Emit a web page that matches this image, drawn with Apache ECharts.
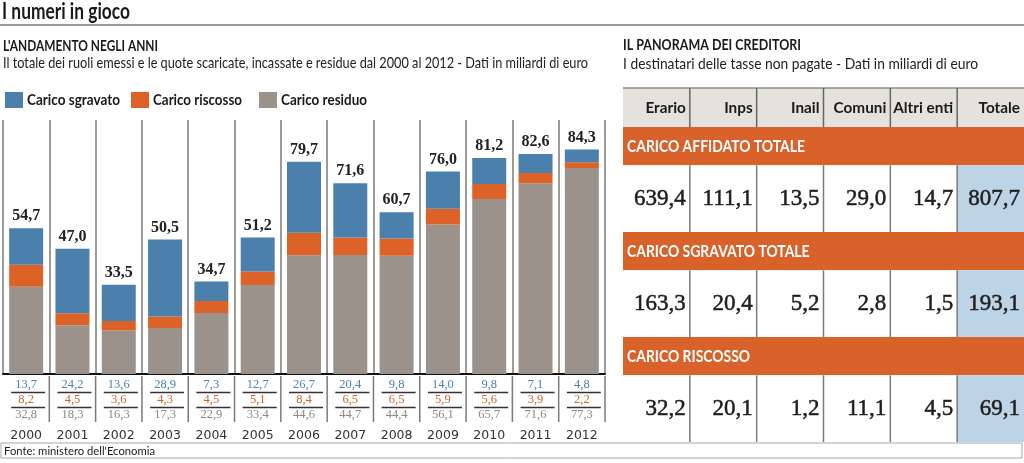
<!DOCTYPE html>
<html><head><meta charset="utf-8">
<script src="https://cdn.jsdelivr.net/npm/echarts@6/dist/echarts.min.js"></script>
<style>html,body{margin:0;padding:0;background:#fff}#c{width:1024px;height:463px}</style>
</head><body><div id="c"></div>
<script>
// ---- data ----
const anni = ['2000','2001','2002','2003','2004','2005','2006','2007','2008','2009','2010','2011','2012'];
const caricoSgravato = [13.7,24.2,13.6,28.9,7.3,12.7,26.7,20.4,9.8,14.0,9.8,7.1,4.8];
const caricoRiscosso = [8.2,4.5,3.6,4.3,4.5,5.1,8.4,6.5,6.5,5.9,5.6,3.9,2.2];
const caricoResiduo = [32.8,18.3,16.3,17.3,22.9,33.4,44.6,44.7,44.4,56.1,65.7,71.6,77.3];
const totaleAnno = [54.7,47.0,33.5,50.5,34.7,51.2,79.7,71.6,60.7,76.0,81.2,82.6,84.3];
const legendaNomi = ['Carico sgravato','Carico riscosso','Carico residuo'];
const enti = ['Erario','Inps','Inail','Comuni','Altri enti','Totale'];
const voci = ['CARICO AFFIDATO TOTALE','CARICO SGRAVATO TOTALE','CARICO RISCOSSO'];
const caricoAffidatoEnti = [639.4,111.1,13.5,29.0,14.7,807.7];
const caricoSgravatoEnti = [163.3,20.4,5.2,2.8,1.5,193.1];
const caricoRiscossoEnti = [32.2,20.1,1.2,11.1,4.5,69.1];

// ---- style ----
const BLUE='#4b7fac', ORANGE='#dc6228', GRAY='#9b928b';
const BAND='#d9622a', HEAD='#e5e2dd', CELLBLUE='#bdd3e6';
const SANS='Lato', SERIF='Liberation Serif';
const fmt = v => v.toFixed(1).replace('.', ',');

const mctx = document.createElement('canvas').getContext('2d');
function measure(text, font){ mctx.font = font; return mctx.measureText(text).width; }
function txt(text, x, y, font, w, fill, align){
  const s = w / measure(text, font);
  return {type:'text', x:x, y:y, scaleX:s, silent:true,
    style:{text:text, x:0, y:0, font:font, fill:fill, align:align||'left', verticalAlign:'middle',
           textAlign:align||'left', textVerticalAlign:'middle'}};
}

const graphics = [];
graphics.push(txt('I numeri in gioco', 2, 12, 'bold 22px '+SANS, 128, '#1a1a1a'));
graphics.push({type:'line', silent:true, shape:{x1:0,y1:25,x2:1024,y2:25}, style:{stroke:'#9a9a9a', lineWidth:2}});
graphics.push(txt("L'ANDAMENTO NEGLI ANNI", 3, 46, 'bold 15px '+SANS, 155, '#1a1a1a'));
graphics.push(txt('Il totale dei ruoli emessi e le quote scaricate, incassate e residue dal 2000 al 2012 - Dati in miliardi di euro', 3, 63, '15px '+SANS, 585, '#222'));
graphics.push(txt('IL PANORAMA DEI CREDITORI', 623, 45, 'bold 15px '+SANS, 178, '#1a1a1a'));
graphics.push(txt('I destinatari delle tasse non pagate - Dati in miliardi di euro', 623, 64, '15px '+SANS, 355, '#222'));
// legend
const legX = [5, 131, 259], legW = [93, 89, 86], legC = [BLUE, ORANGE, GRAY];
legendaNomi.forEach((n,i)=>{
  graphics.push({type:'rect', silent:true, shape:{x:legX[i], y:92, width:18, height:16}, style:{fill:legC[i]}});
  graphics.push(txt(n, legX[i]+22, 100, 'bold 15px '+SANS, legW[i], '#1a1a1a'));
});
// source box
graphics.push({type:'rect', silent:true, shape:{x:1, y:443, width:1021, height:15}, style:{fill:'none', stroke:'#a8a8a8', lineWidth:1}});
graphics.push(txt("Fonte: ministero dell'Economia", 4, 451, '12px '+SANS, 151, '#222'));

const bandScale = 178 / measure(voci[0], 'bold 17px '+SANS);
const headScale = 60 / measure('Altri enti', 'bold 16px '+SANS);

const chart = echarts.init(document.getElementById('c'), null, {renderer:'canvas'});
chart.setOption({
  animation:false,
  backgroundColor:'#fff',
  grid:[
    {left:3, right:419, top:120, bottom:89, containLabel:false, outerBoundsMode:'none'},
    {left:623, right:0, top:127, height:315, containLabel:false, outerBoundsMode:'none'}
  ],
  xAxis:[
    {gridIndex:0, type:'category', data:anni,
     axisLine:{lineStyle:{color:'#111', width:2}}, axisTick:{show:false},
     axisLabel:{margin:55, fontFamily:'DejaVu Sans', fontSize:12.5, color:'#333'},
     splitLine:{show:true, lineStyle:{color:'#7a7a7a', width:1.5}}},
    {gridIndex:1, type:'category', data:enti, show:false}
  ],
  yAxis:[
    {gridIndex:0, type:'value', min:0, max:95.35, show:false},
    {gridIndex:1, type:'category', data:voci, inverse:true, show:false}
  ],
  graphic:{elements:graphics},
  series:[
    {name:legendaNomi[2], type:'bar', stack:'tot', xAxisIndex:0, yAxisIndex:0, data:caricoResiduo, barWidth:34, itemStyle:{color:GRAY}},
    {name:legendaNomi[1], type:'bar', stack:'tot', xAxisIndex:0, yAxisIndex:0, data:caricoRiscosso, barWidth:34, itemStyle:{color:ORANGE}},
    {name:legendaNomi[0], type:'bar', stack:'tot', xAxisIndex:0, yAxisIndex:0, data:caricoSgravato, barWidth:34, itemStyle:{color:BLUE},
     label:{show:true, position:'top', distance:4, formatter:p=>fmt(totaleAnno[p.dataIndex]),
            fontFamily:SERIF, fontWeight:'bold', fontSize:16, color:'#222'}},
    // value table under bars
    {type:'custom', xAxisIndex:0, yAxisIndex:0, clip:false, silent:true,
     data: anni.map((a,i)=>[i, caricoSgravato[i], caricoRiscosso[i], caricoResiduo[i]]),
     renderItem:function(params, api){
       const p = api.coord([api.value(0), 0]);
       const bw = api.size([1,0])[0];
       const cx = p[0], y0 = p[1];
       const ch = [];
       ch.push({type:'line', shape:{x1:cx+bw/2, y1:y0+2, x2:cx+bw/2, y2:y0+48}, style:{stroke:'#7a7a7a', lineWidth:1.5}});
       const cols = ['#4a7fb0', '#d4632c', '#8c8782'];
       const offs = [11, 26, 41];
       for (let k=0;k<3;k++){
         ch.push({type:'text', x:cx, y:y0+offs[k], style:{text:fmt(api.value(k+1)), font:'12.5px '+SERIF, fill:cols[k],
           align:'center', verticalAlign:'middle', textAlign:'center', textVerticalAlign:'middle'}});
       }
       ch.push({type:'line', shape:{x1:cx-15, y1:y0+18.5, x2:cx+19, y2:y0+18.5}, style:{stroke:'#333', lineWidth:1.3}});
       ch.push({type:'line', shape:{x1:cx-15, y1:y0+33.5, x2:cx+19, y2:y0+33.5}, style:{stroke:'#333', lineWidth:1.3}});
       return {type:'group', children:ch};
     }},
    // table header
    {type:'custom', xAxisIndex:1, yAxisIndex:1, clip:false, silent:true,
     data: enti.map((e,i)=>[i, 0]),
     renderItem:function(params, api){
       const i = api.value(0);
       const p = api.coord([i, 0]);
       const w = api.size([1,1])[0];
       const top = params.coordSys.y - 39;
       const ch = [];
       ch.push({type:'rect', shape:{x:p[0]-w/2, y:top, width:w, height:39}, style:{fill:HEAD}});
       ch.push({type:'line', shape:{x1:p[0]-w/2, y1:top, x2:p[0]+w/2, y2:top}, style:{stroke:'#8a8a8a', lineWidth:1.5}});
       if (i>0) ch.push({type:'line', shape:{x1:p[0]-w/2, y1:top, x2:p[0]-w/2, y2:top+39}, style:{stroke:'#666', lineWidth:1.5}});
       ch.push({type:'text', x:p[0]+w/2-4, y:top+20, scaleX:headScale,
         style:{text:enti[i], font:'bold 16px '+SANS, fill:'#1a1a1a', align:'right', verticalAlign:'middle', textAlign:'right', textVerticalAlign:'middle'}});
       return {type:'group', children:ch};
     }},
    // orange bands
    {type:'custom', xAxisIndex:1, yAxisIndex:1, clip:false, silent:true,
     data: voci.map((v,r)=>[0, r]),
     renderItem:function(params, api){
       const r = api.value(1);
       const p = api.coord([0, r]);
       const h = api.size([1,1])[1];
       const top = p[1]-h/2;
       const cs = params.coordSys;
       return {type:'group', children:[
         {type:'rect', shape:{x:cs.x, y:top, width:cs.width, height:38.3}, style:{fill:BAND}},
         {type:'text', x:cs.x+4, y:top+19.5, scaleX:bandScale,
          style:{text:voci[r], font:'bold 17px '+SANS, fill:'#fff', align:'left', verticalAlign:'middle', textAlign:'left', textVerticalAlign:'middle'}}
       ]};
     }},
    // cells
    {type:'custom', xAxisIndex:1, yAxisIndex:1, clip:false, silent:true,
     data: [].concat(
       caricoAffidatoEnti.map((v,c)=>[c,0,v]),
       caricoSgravatoEnti.map((v,c)=>[c,1,v]),
       caricoRiscossoEnti.map((v,c)=>[c,2,v])),
     renderItem:function(params, api){
       const c = api.value(0), r = api.value(1), v = api.value(2);
       const p = api.coord([c, r]);
       const sz = api.size([1,1]);
       const w = sz[0], h = sz[1];
       const left = p[0]-w/2, top = p[1]-h/2 + 38.3, hh = h-38.3;
       const ch = [];
       ch.push({type:'rect', shape:{x:left, y:top, width:w, height:hh}, style:{fill: c===enti.length-1 ? CELLBLUE : '#fff'}});
       if (c>0) ch.push({type:'line', shape:{x1:left, y1:top, x2:left, y2:top+hh}, style:{stroke:'#7a7a7a', lineWidth:1.5}});
       ch.push({type:'text', x:left+w-4, y:top+hh/2, style:{text:fmt(v), font:'23px '+SERIF, fill:'#1e1e1e',
         stroke:'#1e1e1e', lineWidth:0.5,
         align:'right', verticalAlign:'middle', textAlign:'right', textVerticalAlign:'middle'}});
       return {type:'group', children:ch};
     }}
  ]
});
</script></body></html>
